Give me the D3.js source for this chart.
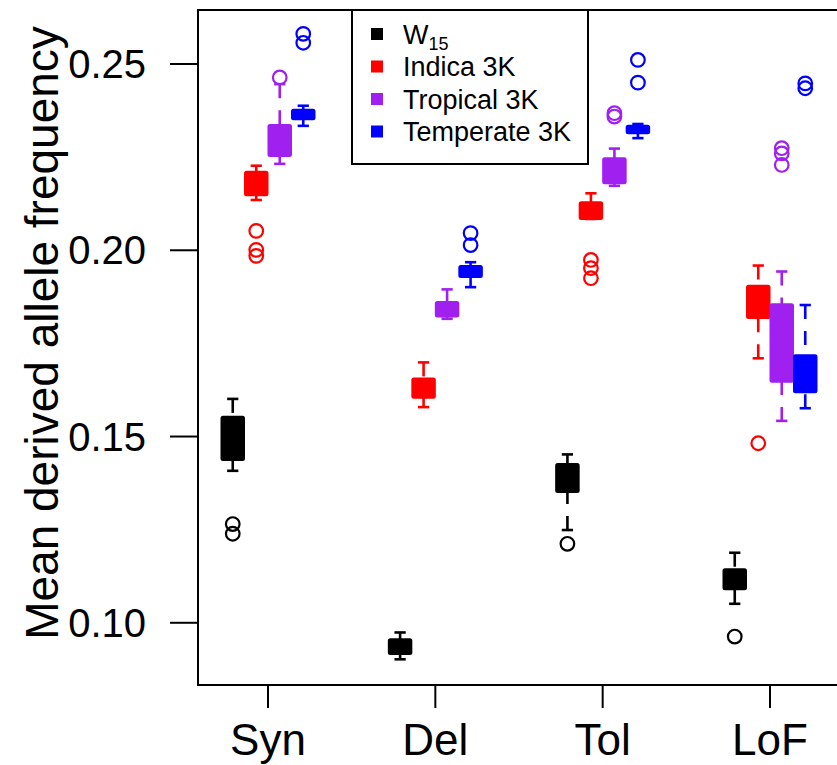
<!DOCTYPE html>
<html><head><meta charset="utf-8">
<script src="https://cdn.jsdelivr.net/npm/d3@7"></script>
<style>body{margin:0;background:#fff}svg{display:block}text{font-family:"Liberation Sans",Arial,sans-serif}</style>
</head><body><svg id="c" width="837" height="765"></svg>
<script>
const categories = ["Syn","Del","Tol","LoF"];
const series = ["W15","Indica 3K","Tropical 3K","Temperate 3K"];
const colors = ["#000000","#FF0000","#A020F0","#0000FF"];
const yTicks = [0.10,0.15,0.20,0.25];
// per series, per category: [lower whisker, Q1, Q3, upper whisker]
const statsW15 = [[0.1408,0.1437,0.1553,0.1601],[0.0902,0.0916,0.0956,0.0974],[0.1249,0.1351,0.1426,0.1452],[0.1051,0.1090,0.1144,0.1188]];
const statsIndica = [[0.2135,0.2148,0.2211,0.2227],[0.1579,0.1604,0.1656,0.1699],[0.2084,0.2084,0.2129,0.2153],[0.1710,0.1818,0.1905,0.1959]];
const statsTropical = [[0.2232,0.2253,0.2336,0.2446],[0.1816,0.1822,0.1861,0.1895],[0.2173,0.2180,0.2247,0.2273],[0.1542,0.1647,0.1855,0.1943]];
const statsTemperate = [[0.2334,0.2352,0.2377,0.2388],[0.1901,0.1928,0.1958,0.1968],[0.2301,0.2314,0.2334,0.2339],[0.1576,0.1619,0.1718,0.1853]];
const outW15 = [[0.1265,0.1239],[],[0.1212],[0.0963]];
const outIndica = [[0.2052,0.2001,0.1985],[],[0.1974,0.1952,0.1925],[0.1482]];
const outTropical = [[0.2464],[],[0.2368,0.2359],[0.2274,0.2260,0.2229]];
const outTemperate = [[0.2581,0.2557],[0.2046,0.2014],[0.2511,0.2450],[0.2448,0.2435]];

const allStats = [statsW15,statsIndica,statsTropical,statsTemperate];
const allOut = [outW15,outIndica,outTropical,outTemperate];

const svg = d3.select("#c");
const L=198, T=10, B=685, R=840;
const y = d3.scaleLinear().domain([0.0833,0.2645]).range([B,T]);
const x = d3.scalePoint().domain(categories).range([268,770]);
const xo = d3.scaleBand().domain(series).range([-47,47]);
const bw = xo.bandwidth()-1;

// boxes
series.forEach((s,si)=>{
  const col = colors[si];
  categories.forEach((c,ci)=>{
    const [lo,q1,q3,hi] = allStats[si][ci];
    const cx = x(c)+xo(s)+xo.bandwidth()/2;
    const g = svg.append("g");
    [[lo,q1],[hi,q3]].forEach(([a,b])=>{
      if (Math.abs(y(a)-y(b))>0.5){
        g.append("line").attr("x1",cx).attr("x2",cx).attr("y1",y(a)).attr("y2",y(b))
          .attr("stroke",col).attr("stroke-width",2.6).attr("stroke-dasharray","14,12");
      }
      g.append("line").attr("x1",cx-bw/4).attr("x2",cx+bw/4).attr("y1",y(a)).attr("y2",y(a))
        .attr("stroke",col).attr("stroke-width",2.6);
    });
    g.append("rect").attr("x",cx-bw/2).attr("width",bw).attr("y",y(q3)).attr("height",y(q1)-y(q3))
      .attr("fill",col).attr("stroke",col).attr("stroke-width",2).attr("rx",1.5);
    allOut[si][ci].forEach(v=>{
      g.append("circle").attr("cx",cx).attr("cy",y(v)).attr("r",6.8)
        .attr("fill","none").attr("stroke",col).attr("stroke-width",2.2);
    });
  });
});

// frame
svg.append("rect").attr("x",L).attr("y",T).attr("width",R-L).attr("height",B-T)
  .attr("fill","none").attr("stroke","#000").attr("stroke-width",2);

// y axis
yTicks.forEach(t=>{
  svg.append("line").attr("x1",170).attr("x2",L).attr("y1",y(t)).attr("y2",y(t)).attr("stroke","#000").attr("stroke-width",2);
  svg.append("text").attr("x",146).attr("y",y(t)).attr("text-anchor","end").attr("dominant-baseline","central")
    .attr("font-size",40).text(t.toFixed(2));
});
svg.append("text").attr("transform","translate(58,333) rotate(-90)").attr("text-anchor","middle")
  .attr("font-size",46).text("Mean derived allele frequency");

// x axis
categories.forEach(c=>{
  svg.append("line").attr("x1",x(c)).attr("x2",x(c)).attr("y1",B).attr("y2",708).attr("stroke","#000").attr("stroke-width",2);
  svg.append("text").attr("x",x(c)).attr("y",755).attr("text-anchor","middle").attr("font-size",44).text(c);
});

// legend
svg.append("rect").attr("x",352).attr("y",10).attr("width",236).attr("height",154)
  .attr("fill","#fff").attr("stroke","#000").attr("stroke-width",2);
series.forEach((s,i)=>{
  const ry = 34 + i*32.5;
  svg.append("rect").attr("x",371).attr("y",ry-6).attr("width",12).attr("height",12).attr("fill",colors[i]);
  const t = svg.append("text").attr("x",403).attr("y",ry+9.5).attr("font-size",27);
  if (i===0){ t.append("tspan").text("W"); t.append("tspan").attr("font-size",18).attr("dy",6).text("15"); }
  else t.text(s);
});
</script></body></html>
